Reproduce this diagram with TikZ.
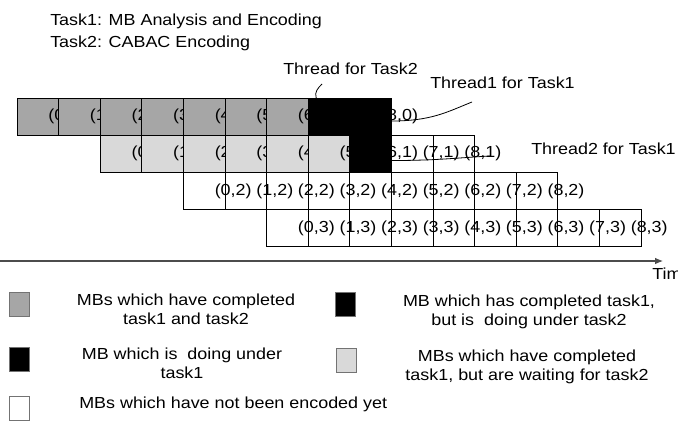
\documentclass[tikz,border=0pt]{standalone}
\usepackage{fontspec}
\setmainfont{Liberation Sans}[FakeStretch=1.12]
\usetikzlibrary{arrows.meta}
\definecolor{mbdone}{HTML}{A6A6A6}
\definecolor{mbwait}{HTML}{D9D9D9}

\begin{document}
\begin{tikzpicture}[x=0.75pt, y=-0.75pt,
    every node/.style={font=\fontsize{12}{14}\selectfont, inner sep=0pt},
    cell/.style={draw=black, line width=0.75pt, minimum width=31.2pt, minimum height=27.9pt, outer sep=0pt},
    keybox/.style={draw=black!55, line width=0.75pt, minimum width=15pt, minimum height=18pt},
    callout/.style={draw=black, line width=0.6pt}]
  \useasboundingbox (0,0) rectangle (678,425);

  % Name the two tasks
  \node[anchor=base west] (task1) at (50,25) {Task1: MB Analysis and Encoding};
  \node[anchor=base west] (task2) at (50,47) {Task2: CABAC Encoding};

  % Draw the MB rows, each one shifted by two MBs
  \foreach \r in {0,...,3} {
    \foreach \i in {0,...,8} {
      \def\cfill{none}
      \ifnum\r=0 \ifnum\i<7 \def\cfill{mbdone}\else\def\cfill{black}\fi\fi
      \ifnum\r=1 \ifnum\i<6 \def\cfill{mbwait}\fi\ifnum\i=6 \def\cfill{black}\fi\fi
      \node[cell, fill=\cfill] (c-\r-\i) at ({37.8+(2*\r+\i)*41.6}, {116.6+\r*37.25}) {};
      \node (n-\r-\i) at ({66.8+(2*\r+\i)*41.6}, {116.6+\r*37.25}) {(\i,\r)};
    }
  }

  % Label the threads
  \node[anchor=base west] (thr2) at (283,74) {Thread for Task2};
  \node[anchor=base west] (thr11) at (430,88) {Thread1 for Task1};
  \node[anchor=base west] (thr12) at (531,154) {Thread2 for Task1};
  \coordinate (thr2tip) at (322,84);
  \coordinate (thr11tip) at (472,102);
  \coordinate (thr12tip) at (490,156);
  \draw[callout] ([xshift=6pt]c-0-7.north west) .. controls +(-2,-6) and +(-4,4) .. (thr2tip);
  \draw[callout] ([yshift=-3.3pt]c-0-8.east) .. controls +(40,0) and +(-25,10) .. (thr11tip);
  \draw[callout] ([yshift=-5pt]c-1-6.east) .. controls +(45,0) and +(-35,2) .. (thr12tip);

  % Time axis
  \coordinate (t0) at (0,261);
  \coordinate (t1) at (663,261);
  \node[anchor=north west] (time) at (652,268) {Time};
  \draw[-{Latex[length=6pt,width=5pt]}, line width=0.8pt, black!70] (t0) -- (t1);

  % Legend
  \node[keybox, fill=mbdone] (k1) at (19,304) {};
  \node[align=center, anchor=north] (k1txt) at (186,294) {MBs which have completed\\task1 and task2};
  \node[keybox, fill=black] (k2) at (345,304) {};
  \node[align=center, anchor=north] (k2txt) at (529,295) {MB which has completed task1,\\but is\ \ doing under task2};
  \node[keybox, fill=black] (k3) at (19,359) {};
  \node[align=center, anchor=north] (k3txt) at (182,348) {MB which is\ \ doing under\\task1};
  \node[keybox, fill=mbwait] (k4) at (346,360) {};
  \node[align=center, anchor=north] (k4txt) at (527,350) {MBs which have completed\\task1, but are waiting for task2};
  \node[keybox, fill=white] (k5) at (19,408) {};
  \node[anchor=north west] (k5txt) at (79,397) {MBs which have not been encoded yet};
\end{tikzpicture}
\end{document}
